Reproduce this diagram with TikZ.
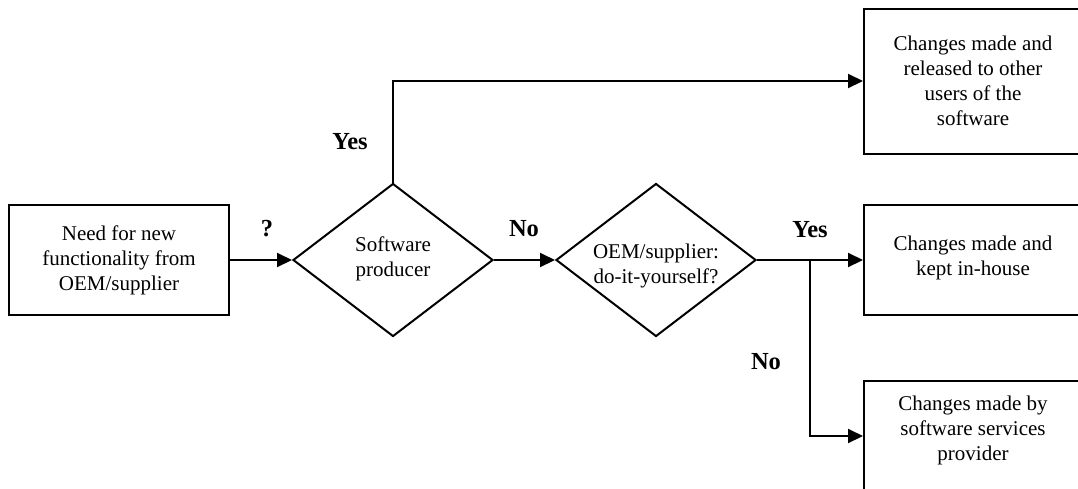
\documentclass[tikz,border=0pt]{standalone}
\usepackage{fontspec}
\setmainfont{Liberation Serif}
\usetikzlibrary{shapes.geometric,arrows.meta}

\begin{document}
\begin{tikzpicture}[x=1pt,y=-1pt,
  line width=2pt,
  txt/.style={font=\fontsize{21}{25}\selectfont, align=center, inner sep=0pt},
  box/.style={draw, rectangle, txt},
  frame/.style={draw, rectangle, inner sep=0pt},
  decision/.style={draw, diamond, inner sep=0pt,
    minimum width=200pt, minimum height=153pt},
  lbl/.style={font=\fontsize{24.5}{28}\selectfont\bfseries, inner sep=0pt},
  flow/.style={-{Triangle[length=15pt,width=14pt]}}]

\path[use as bounding box] (0,0) rectangle (1078,488);
\clip (0,0) rectangle (1078,488);

% start box and the two decisions
\node[box, minimum width=220pt, minimum height=110pt] (need) at (119,260)
  {Need for new\\functionality from\\OEM/supplier};
\node[decision] (prod) at (393,260) {};
\node[txt] (prodtext) at (393,259) {Software\\producer};
\node[decision] (diy) at (656,260) {};
\node[txt] (diytext) at (656,266) {OEM/supplier:\\do-it-yourself?};

% outcome boxes (their right side runs past the page edge)
\node[box, minimum width=218pt, minimum height=145pt] (release) at (973,81)
  {Changes made and\\released to other\\users of the\\software};
\node[frame, minimum width=218pt, minimum height=110pt] (inhouse) at (973,260) {};
\node[txt] (inhousetext) at (973,258) {Changes made and\\kept in-house};
\node[frame, minimum width=218pt, minimum height=110pt] (provider) at (973,436) {};
\node[txt] (providertext) at (973,430)
  {Changes made by\\software services\\provider};

% connectors
\draw[flow] (need.east) -- (prod.west);
\draw[flow] (prod.east) -- (diy.west);
\draw[flow] (prod.north) |- (release.west);
\draw[flow] (diy.east) -- (inhouse.west);
\coordinate (split) at (810,260);
\draw[flow] (split) |- (provider.west);

% branch labels
\node[lbl] (q) at (267,229) {?};
\node[lbl] (yes1) at (350,142) {Yes};
\node[lbl] (no1) at (524,229) {No};
\node[lbl] (yes2) at (810,230) {Yes};
\node[lbl] (no2) at (766,362) {No};
\end{tikzpicture}
\end{document}
